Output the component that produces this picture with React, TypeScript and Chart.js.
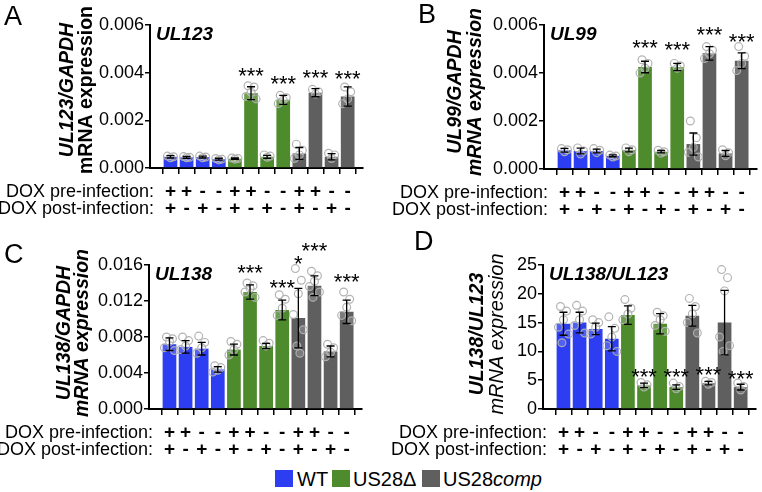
import React, { useEffect, useRef } from "react";
import { Chart, registerables } from "chart.js";
Chart.register(...registerables);

const FONT = "'Liberation Sans', Arial, Helvetica, sans-serif";

// ---------- shared categories ----------
const groups = ["WT", "WT", "WT", "WT", "US28Δ", "US28Δ", "US28Δ", "US28Δ", "US28comp", "US28comp", "US28comp", "US28comp"];
const doxPre = ["+", "+", "-", "-", "+", "+", "-", "-", "+", "+", "-", "-"];
const doxPost = ["+", "-", "+", "-", "+", "-", "+", "-", "+", "-", "+", "-"];
const groupColors: Record<string, string> = { WT: "#2d3ef2", "US28Δ": "#4e8b2c", US28comp: "#5f5f5f" };

// ---------- Panel A: UL123/GAPDH ----------
const ul123Mean = [0.00047, 0.00045, 0.00046, 0.00037, 0.00039, 0.00314, 0.00047, 0.00286, 0.00061, 0.00316, 0.00047, 0.003];
const ul123Sd = [0.00005, 0.00004, 0.00004, 0.00004, 0.00003, 0.00027, 0.00006, 0.00019, 0.00025, 0.00017, 0.00013, 0.0004];
const ul123Points = [
  [0.0005, 0.00047, 0.00043], [0.00048, 0.00045, 0.00043], [0.0005, 0.00046, 0.00043], [0.0004, 0.00037, 0.00034],
  [0.00042, 0.0004, 0.00037], [0.00345, 0.0034, 0.00318, 0.003, 0.0029], [0.00055, 0.0005, 0.00045], [0.00305, 0.00295, 0.00285, 0.0027],
  [0.001, 0.00075, 0.00055, 0.0004], [0.0033, 0.0032, 0.0031], [0.00062, 0.00055, 0.0004], [0.0034, 0.0032, 0.0029, 0.0027],
];
const ul123Stars = ["", "", "", "", "", "***", "", "***", "", "***", "", "***"];
const ul123StarY = [null, null, null, null, null, 0.00408, null, 0.00375, null, 0.004, null, 0.00396];

// ---------- Panel B: UL99/GAPDH ----------
const ul99Mean = [0.00078, 0.00075, 0.00075, 0.00055, 0.00079, 0.00425, 0.00072, 0.00425, 0.00104, 0.00482, 0.00065, 0.00451];
const ul99Sd = [0.00008, 0.00012, 0.00008, 0.00004, 0.00008, 0.00024, 0.00005, 0.00015, 0.00046, 0.00028, 0.00012, 0.00033];
const ul99Points = [
  [0.00085, 0.0008, 0.00072], [0.00088, 0.00075, 0.00062], [0.00085, 0.00078, 0.00068], [0.00058, 0.00054, 0.0005],
  [0.00088, 0.0008, 0.00072], [0.00455, 0.0044, 0.0042, 0.004], [0.00078, 0.00072, 0.00066], [0.0044, 0.0043, 0.0042],
  [0.002, 0.0013, 0.0009, 0.0007, 0.0005], [0.0051, 0.00495, 0.0048, 0.0046], [0.0008, 0.00068, 0.00055], [0.0051, 0.0047, 0.0044, 0.0041],
];
const ul99Stars = ["", "", "", "", "", "***", "", "***", "", "***", "", "***"];
const ul99StarY = [null, null, null, null, null, 0.00525, null, 0.00517, null, 0.00579, null, 0.0055];

// ---------- Panel C: UL138/GAPDH ----------
const ul138Mean = [0.0072, 0.0069, 0.0067, 0.0044, 0.0066, 0.013, 0.007, 0.011, 0.0101, 0.0137, 0.0064, 0.0108];
const ul138Sd = [0.0007, 0.0007, 0.0007, 0.0003, 0.0006, 0.0008, 0.0003, 0.0011, 0.0033, 0.0011, 0.0006, 0.0013];
const ul138Points = [
  [0.008, 0.0078, 0.0075, 0.0068, 0.0065], [0.008, 0.0076, 0.007, 0.0066], [0.0081, 0.0074, 0.0068, 0.0062], [0.0048, 0.0046, 0.0043, 0.0041],
  [0.0075, 0.0072, 0.0066, 0.006], [0.014, 0.0137, 0.0134, 0.013, 0.0124], [0.0076, 0.0073, 0.007], [0.0127, 0.0122, 0.0112, 0.0104],
  [0.0156, 0.0143, 0.0128, 0.0105, 0.0088, 0.007, 0.0062], [0.0153, 0.0148, 0.0142, 0.0136, 0.013, 0.0124], [0.0072, 0.0068, 0.0063, 0.0058], [0.013, 0.0122, 0.0113, 0.0104, 0.0098],
];
const ul138Stars = ["", "", "", "", "", "***", "", "***", "*", "***", "", "***"];
const ul138StarY = [null, null, null, null, null, 0.01567, null, 0.014, 0.01667, 0.0182, null, 0.01467];

// ---------- Panel D: UL138/UL123 ----------
const ratioMean = [14.8, 15.0, 13.9, 12.2, 16.3, 4.1, 14.8, 3.8, 16.2, 4.5, 15.0, 3.8];
const ratioSd = [2.0, 1.8, 1.0, 2.1, 1.6, 0.4, 1.75, 0.4, 1.8, 0.3, 5.6, 0.5];
const ratioPoints = [
  [17.8, 17.0, 15.5, 14.2, 13.0, 11.5], [18.0, 17.0, 15.5, 14.5, 13.2], [15.5, 15.0, 14.2, 13.0], [16.0, 14.0, 12.5, 11.0, 10.0],
  [19.0, 17.5, 16.5, 15.5], [4.6, 4.2, 3.8], [16.8, 16.2, 15.5, 14.5, 13.5], [4.5, 3.9, 3.5],
  [19.2, 17.8, 16.5, 15.0, 13.2], [4.8, 4.6, 4.3], [24.2, 22.8, 20.5, 12.5, 11.0, 10.0], [4.5, 3.9, 3.3],
];
const ratioStars = ["", "", "", "", "", "***", "", "***", "", "***", "", "***"];
const ratioStarY = [null, null, null, null, null, 6.5, null, 6.5, null, 6.8, null, 6.2];

// ---------- tick settings ----------
const yMaxA = 0.006, yStepA = 0.002;
const yMaxC = 0.016, yStepC = 0.004;
const yMaxD = 25, yStepD = 5;

const legendItems = ["WT", "US28Δ", "US28comp"];

const jitter = [-3, 3, 0, -5, 5, -1.5, 1.5];

type PanelDef = {
  left: number; top: number; w: number; h: number;
  area: { l: number; t: number; r: number; b: number };
  letter: string; lx: number; ly: number;
  t1: string; t2: string; t1font: string; t2font: string; t1x: number; t2x: number; ty: number;
  inner: string;
  mean: number[]; sd: number[]; points: number[][]; stars: string[]; starY: (number | null)[];
  yMax: number; yStep: number; decimals: number;
};

const panels: PanelDef[] = [
  {
    left: 0, top: 0, w: 381, h: 228, area: { l: 150, t: 25, r: 363, b: 168 },
    letter: "A", lx: 4, ly: 25,
    t1: "UL123/GAPDH", t2: "mRNA expression", t1font: `italic bold 19.5px ${FONT}`, t2font: `bold 19.5px ${FONT}`, t1x: 68, t2x: 87, ty: 90,
    inner: "UL123", mean: ul123Mean, sd: ul123Sd, points: ul123Points, stars: ul123Stars, starY: ul123StarY,
    yMax: yMaxA, yStep: yStepA, decimals: 3,
  },
  {
    left: 381, top: 0, w: 381, h: 228, area: { l: 163, t: 25, r: 376, b: 169 },
    letter: "B", lx: 37, ly: 23,
    t1: "UL99/GAPDH", t2: "mRNA expression", t1font: `italic bold 19.5px ${FONT}`, t2font: `italic bold 19.5px ${FONT}`, t1x: 75, t2x: 95, ty: 92,
    inner: "UL99", mean: ul99Mean, sd: ul99Sd, points: ul99Points, stars: ul99Stars, starY: ul99StarY,
    yMax: yMaxA, yStep: yStepA, decimals: 3,
  },
  {
    left: 0, top: 228, w: 381, h: 236, area: { l: 149, t: 37, r: 362, b: 181 },
    letter: "C", lx: 4, ly: 35,
    t1: "UL138/GAPDH", t2: "mRNA expression", t1font: `italic bold 19.5px ${FONT}`, t2font: `italic bold 19.5px ${FONT}`, t1x: 65, t2x: 83, ty: 105,
    inner: "UL138", mean: ul138Mean, sd: ul138Sd, points: ul138Points, stars: ul138Stars, starY: ul138StarY,
    yMax: yMaxC, yStep: yStepC, decimals: 3,
  },
  {
    left: 381, top: 228, w: 381, h: 236, area: { l: 162, t: 37, r: 375, b: 181 },
    letter: "D", lx: 33, ly: 22,
    t1: "UL138/UL123", t2: "mRNA expression", t1font: `italic bold 19.5px ${FONT}`, t2font: `italic 20px ${FONT}`, t1x: 97, t2x: 116, ty: 106,
    inner: "UL138/UL123", mean: ratioMean, sd: ratioSd, points: ratioPoints, stars: ratioStars, starY: ratioStarY,
    yMax: yMaxD, yStep: yStepD, decimals: 0,
  },
];

function drawText(ctx: CanvasRenderingContext2D, s: string, x: number, y: number, font: string, align: CanvasTextAlign = "center", baseline: CanvasTextBaseline = "middle") {
  ctx.font = font;
  ctx.textAlign = align;
  ctx.textBaseline = baseline;
  ctx.fillStyle = "#000";
  ctx.fillText(s, x, y);
}

function Panel({ p }: { p: PanelDef }) {
  const ref = useRef<HTMLCanvasElement>(null);
  useEffect(() => {
    const overlay = {
      id: "overlay",
      afterDatasetsDraw(chart: any) {
        const ctx: CanvasRenderingContext2D = chart.ctx;
        const xs = chart.scales.x, ys = chart.scales.y;
        ctx.save();
        // individual points
        p.points.forEach((arr, i) => {
          const cx = xs.getPixelForValue(i);
          arr.forEach((v, j) => {
            ctx.beginPath();
            ctx.arc(cx + jitter[j % jitter.length], ys.getPixelForValue(v), 3.9, 0, Math.PI * 2);
            ctx.fillStyle = "rgba(255,255,255,0.18)";
            ctx.fill();
            ctx.strokeStyle = "rgba(175,175,175,0.95)";
            ctx.lineWidth = 1.2;
            ctx.stroke();
          });
        });
        // error bars
        ctx.strokeStyle = "#000";
        ctx.lineWidth = 1.3;
        p.mean.forEach((m, i) => {
          const cx = xs.getPixelForValue(i);
          const y1 = ys.getPixelForValue(m + p.sd[i]);
          const y2 = ys.getPixelForValue(Math.max(0, m - p.sd[i]));
          ctx.beginPath();
          ctx.moveTo(cx, y1); ctx.lineTo(cx, y2);
          ctx.moveTo(cx - 4, y1); ctx.lineTo(cx + 4, y1);
          ctx.moveTo(cx - 4, y2); ctx.lineTo(cx + 4, y2);
          ctx.stroke();
        });
        ctx.restore();
      },
      afterDraw(chart: any) {
        const ctx: CanvasRenderingContext2D = chart.ctx;
        const xs = chart.scales.x, ys = chart.scales.y;
        const area = chart.chartArea;
        ctx.save();
        // stars
        p.stars.forEach((s, i) => {
          const sy = p.starY[i];
          if (!s || sy == null) return;
          drawText(ctx, s, xs.getPixelForValue(i), ys.getPixelForValue(sy) + 12.3, `22px ${FONT}`, "center", "alphabetic");
        });
        // panel letter
        drawText(ctx, p.letter, p.lx, p.ly, `27px ${FONT}`, "left", "alphabetic");
        // inner title
        drawText(ctx, p.inner, area.left + 6, area.top + 10, `italic bold 19px ${FONT}`, "left", "middle");
        // y axis titles (rotated)
        [[p.t1, p.t1font, p.t1x], [p.t2, p.t2font, p.t2x]].forEach(([s, f, x]) => {
          ctx.save();
          ctx.translate(x as number, p.ty);
          ctx.rotate(-Math.PI / 2);
          drawText(ctx, s as string, 0, 0, f as string, "center", "middle");
          ctx.restore();
        });
        // DOX rows
        const r1 = area.bottom + 24, r2 = area.bottom + 41;
        drawText(ctx, "DOX pre-infection:", area.left + 4, r1, `18px ${FONT}`, "right");
        drawText(ctx, "DOX post-infection:", area.left + 4, r2, `18px ${FONT}`, "right");
        doxPre.forEach((s, i) => drawText(ctx, s, xs.getPixelForValue(i), r1, `bold 19px ${FONT}`));
        doxPost.forEach((s, i) => drawText(ctx, s, xs.getPixelForValue(i), r2, `bold 19px ${FONT}`));
        ctx.restore();
      },
    };

    const chart = new Chart(ref.current as HTMLCanvasElement, {
      type: "bar",
      data: {
        datasets: [
          {
            data: p.mean.map((v, i) => ({ x: i, y: v })),
            backgroundColor: groups.map((g) => groupColors[g]),
            borderWidth: 0,
            barPercentage: 0.85,
            categoryPercentage: 1,
          } as any,
        ],
      },
      options: {
        responsive: false,
        devicePixelRatio: 1,
        animation: false,
        layout: { padding: { left: 0, top: p.area.t, right: p.w - p.area.r, bottom: 0 } },
        plugins: { legend: { display: false }, tooltip: { enabled: false } },
        scales: {
          x: {
            type: "linear",
            min: -0.72,
            max: 11.4,
            afterBuildTicks: (axis: any) => { axis.ticks = groups.map((_, i) => ({ value: i })); },
            afterFit: (axis: any) => { axis.height = p.h - p.area.b; },
            ticks: { display: false },
            grid: { drawOnChartArea: false, drawTicks: true, tickLength: 6, color: "#000", lineWidth: 1.5 },
            border: { display: true, color: "#000", width: 2 },
          },
          y: {
            type: "linear",
            min: 0,
            max: p.yMax,
            afterFit: (axis: any) => { axis.width = p.area.l; },
            ticks: {
              stepSize: p.yStep,
              color: "#000",
              padding: 1,
              font: { family: FONT, size: 18 },
              callback: (v: any) => Number(v).toFixed(p.decimals),
            },
            grid: { drawOnChartArea: false, drawTicks: true, tickLength: 5, color: "#000", lineWidth: 1.5 },
            border: { display: true, color: "#000", width: 2 },
          },
        },
      } as any,
      plugins: [overlay],
    });
    return () => chart.destroy();
  }, []);
  return (
    <canvas
      ref={ref}
      width={p.w}
      height={p.h}
      style={{ position: "absolute", left: p.left, top: p.top, width: p.w, height: p.h }}
    />
  );
}

export default function App() {
  const legendX = [275, 332, 422];
  const textX = [297, 353, 443];
  return (
    <div style={{ position: "absolute", left: 0, top: 0, width: 762, height: 492, background: "#fff", overflow: "hidden" }}>
      {panels.map((p, i) => (
        <Panel key={i} p={p} />
      ))}
      {legendItems.map((g, i) => (
        <React.Fragment key={g}>
          <div style={{ position: "absolute", left: legendX[i], top: 470, width: 18, height: 17, background: groupColors[g] }} />
          <div style={{ position: "absolute", left: textX[i], top: 468, fontFamily: FONT, fontSize: 20, lineHeight: "22px", color: "#000", whiteSpace: "nowrap" }}>
            {g === "US28comp" ? (<span>US28<i>comp</i></span>) : g}
          </div>
        </React.Fragment>
      ))}
    </div>
  );
}
